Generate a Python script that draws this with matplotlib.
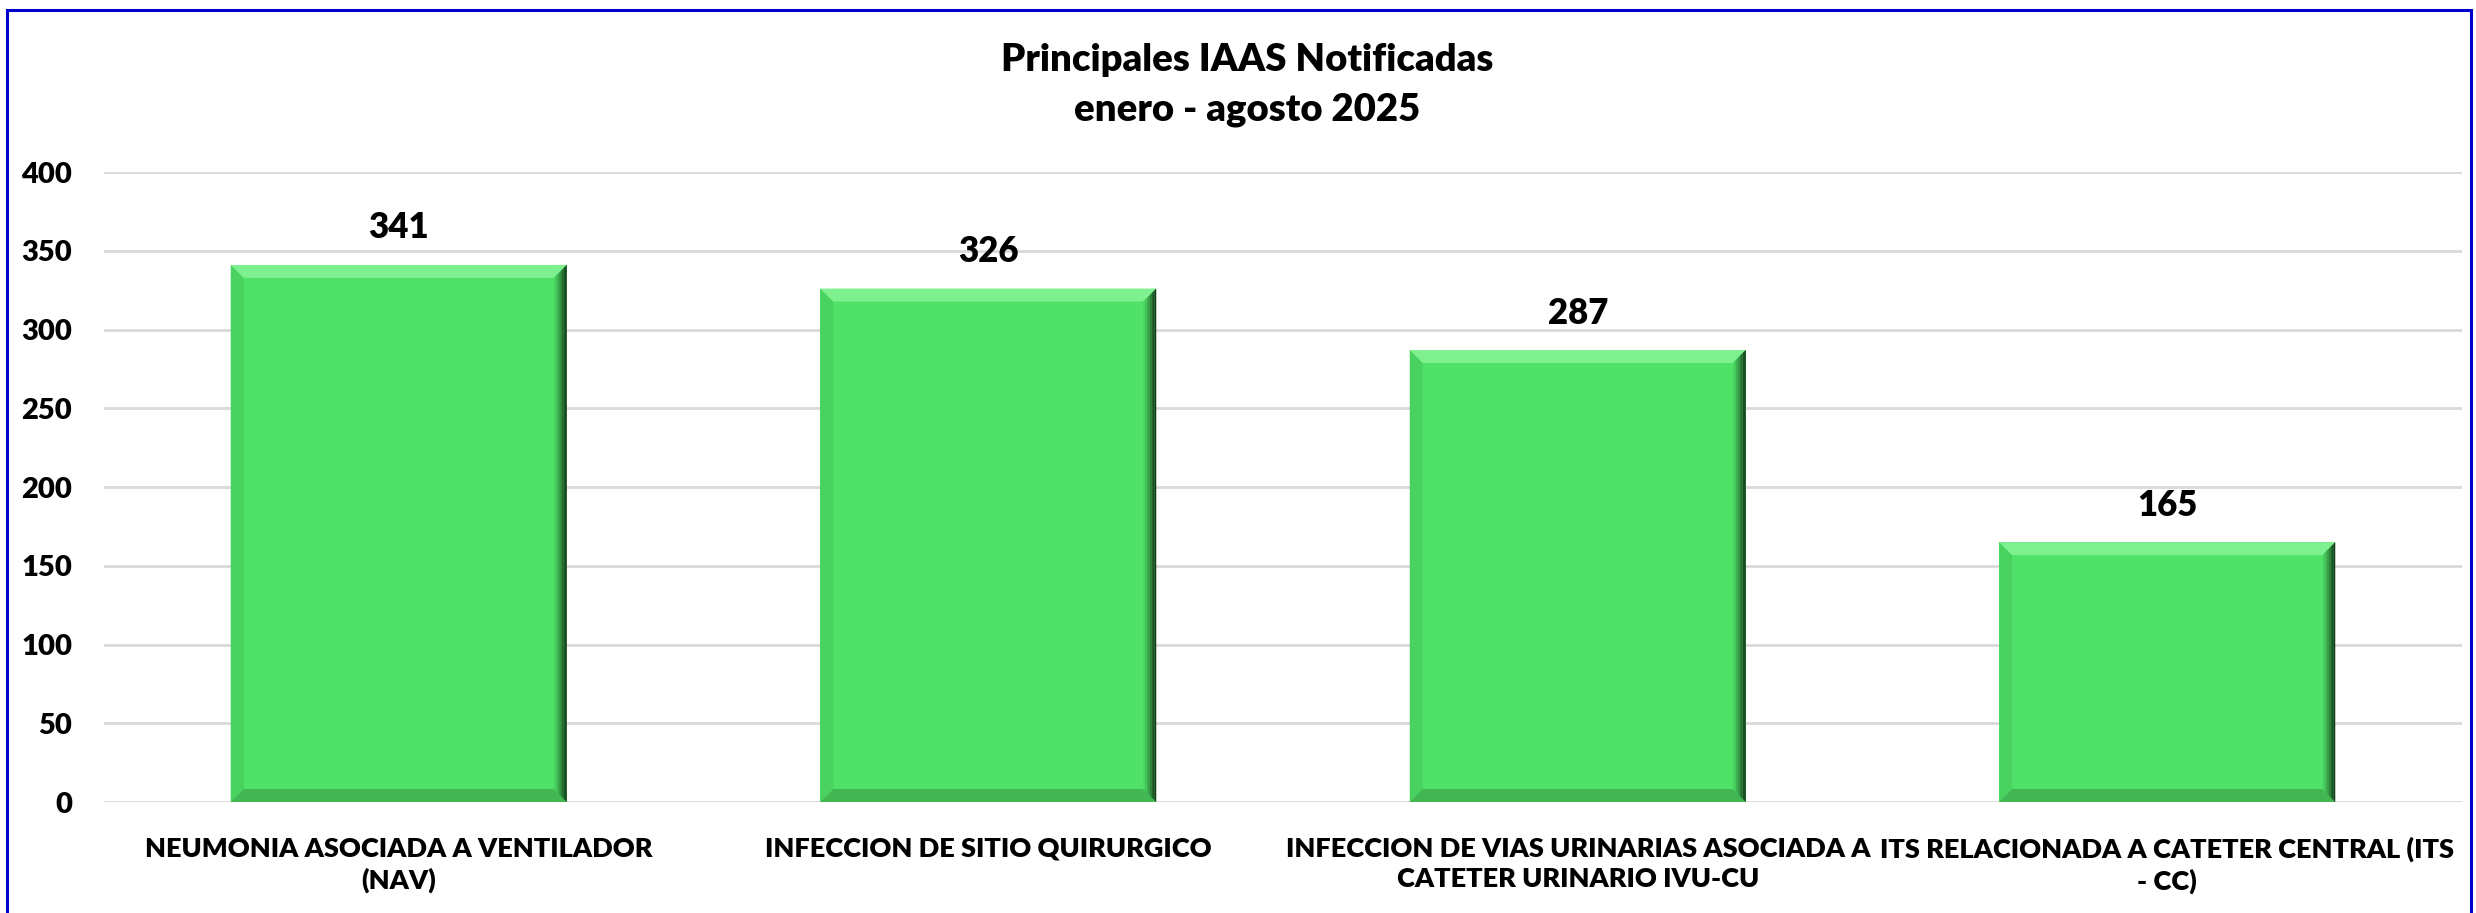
import matplotlib.pyplot as plt
import numpy as np
from matplotlib.patches import Polygon, Rectangle

plt.rcParams['font.family'] = ['Lato', 'DejaVu Sans']
plt.rcParams['font.weight'] = 'heavy'

categorias = ['NEUMONIA ASOCIADA A VENTILADOR\n(NAV)',
              'INFECCION DE SITIO QUIRURGICO',
              'INFECCION DE VIAS URINARIAS ASOCIADA A\nCATETER URINARIO IVU-CU',
              'ITS RELACIONADA A CATETER CENTRAL (ITS\n- CC)']
casos = [341, 326, 287, 165]
yticks = [0, 50, 100, 150, 200, 250, 300, 350, 400]

W, H = 2476, 913
fig = plt.figure(figsize=(W / 100, H / 100), dpi=100)
ax = fig.add_axes([104 / W, 1 - 802 / H, (2462 - 104) / W, (802 - 172) / H])

x = np.arange(len(casos))
ancho = 0.57
barras = ax.bar(x, casos, width=ancho, color='#50E168', zorder=2)
ax.set_xlim(-0.5, len(casos) - 0.5)
ax.set_ylim(0, 400)

# bisel tipo excel
b = 13.0
px_x = ax.bbox.width / (ax.get_xlim()[1] - ax.get_xlim()[0])
px_y = ax.bbox.height / (ax.get_ylim()[1] - ax.get_ylim()[0])
dx, dy = b / px_x, b / px_y
for xi, h in zip(x, casos):
    L, R = xi - ancho / 2, xi + ancho / 2
    ax.add_patch(Polygon([(L, 0), (L, h), (L + dx, h - dy), (L + dx, dy)],
                         closed=True, color='#4AD260', lw=0, zorder=3))
    ax.add_patch(Polygon([(L, 0), (R, 0), (R - dx, dy), (L + dx, dy)],
                         closed=True, color='#42B653', lw=0, zorder=3))
    ax.add_patch(Polygon([(L, h), (R, h), (R - dx, h - dy), (L + dx, h - dy)],
                         closed=True, color='#7EF090', lw=0, zorder=3))
    # lado derecho con degradado
    cols = ['#4BD662', '#45C65A', '#3EB251', '#369A46', '#2D803A', '#24672F', '#1B4F24', '#143A1A']
    n = len(cols)
    for k in range(n):
        a0 = R - dx + dx * k / n
        a1 = R - dx + dx * (k + 1) / n
        f0 = 1 - k / n
        f1 = 1 - (k + 1) / n
        ax.add_patch(Polygon([(a0, h - dy * f0), (a1, h - dy * f1),
                              (a1, dy * f1), (a0, dy * f0)],
                             closed=True, color=cols[k], lw=0, zorder=3))
    ax.text(xi, h + 13, str(h), ha='center', va='bottom', fontsize=25,
            fontweight='heavy', color='black', zorder=4)

ax.set_yticks(yticks)
ax.set_xticks(x)
ax.set_xticklabels(categorias, fontsize=19.5, fontweight='heavy', linespacing=1.3)
ax.tick_params(axis='y', labelsize=21, length=0, pad=23)
ax.tick_params(axis='x', length=0, pad=25)
ax.grid(axis='y', color='#D9D9D9', lw=2, zorder=0)
for s in ax.spines.values():
    s.set_visible(False)

fig.text(1247 / W, 1 - 60 / H, 'Principales IAAS Notificadas', ha='center', va='center',
         fontsize=27.5, fontweight='heavy')
fig.text(1247 / W, 1 - 110 / H, 'enero - agosto 2025', ha='center', va='center',
         fontsize=27.5, fontweight='heavy')

fig.patches.append(Rectangle((7 / W, -0.05), (2471 - 7) / W, 1.05 - 10 / H,
                             transform=fig.transFigure, fill=False,
                             edgecolor='#0000CC', lw=2.2))

plt.savefig('out.png', dpi=100)
